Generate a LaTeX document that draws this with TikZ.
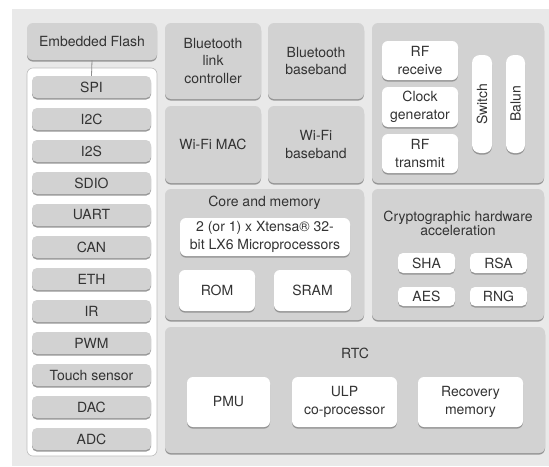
\documentclass[tikz,border=0pt]{standalone}
\usepackage{fontspec}
\setmainfont{TeX Gyre Heros}
\usetikzlibrary{shadows}
\definecolor{bgcol}{HTML}{E9E9E9}
\definecolor{blockcol}{HTML}{D2D2D2}
\definecolor{txtcol}{HTML}{333333}
\definecolor{shadecol}{HTML}{8E8E8E}
\definecolor{edgecol}{HTML}{BDBDBD}
\tikzset{
  base/.style={rounded corners=6pt, inner sep=0pt, align=center, text=txtcol,
    font=\fontsize{14}{17.5}\selectfont},
  dshadow/.style={drop shadow={shadow xshift=0pt, shadow yshift=-1.6pt, fill=shadecol, opacity=0.9}},
  block/.style={base, fill=blockcol, dshadow},
  unit/.style={base, fill=white, dshadow},
  periph/.style={base, rounded corners=5pt, fill=blockcol, dshadow,
    minimum width=119pt, minimum height=22pt},
  pill/.style={base, rounded corners=5pt, fill=white, dshadow,
    minimum width=57pt, minimum height=20pt},
  heading/.style={text=txtcol, align=center, inner sep=0pt,
    font=\fontsize{14}{14}\selectfont},
  vlabel/.style={text=txtcol, rotate=90, inner sep=0pt, font=\fontsize{14}{14}\selectfont},
}
\begin{document}
\begin{tikzpicture}[x=1pt, y=-1pt]
\useasboundingbox (0,0) rectangle (549,466);
\fill[bgcol] (12,9) rectangle (549,466);

% flash and peripheral column
\node[block, minimum width=130pt, minimum height=37pt] (flash) at (92,41.5) {Embedded Flash};
\node[base, fill=white, draw=edgecol, line width=0.6pt, minimum width=130pt, minimum height=388pt] (perif) at (92,262) {};
\foreach \nm/\lb [count=\i from 0] in {spi/SPI, i2c/I2C, i2s/I2S, sdio/SDIO, uart/UART, can/CAN, eth/ETH, ir/IR, pwm/PWM, touch/Touch sensor, dac/DAC, adc/ADC}
  \node[periph] (\nm) at (91.5,{87+32*\i}) {\lb};
\draw[shadecol, line width=0.8pt] (flash.south) -- (spi.north);

% radio blocks
\node[block, minimum width=96pt, minimum height=76pt] (btlc) at (213,61) {Bluetooth\\link\\controller};
\node[block, minimum width=96pt, minimum height=77pt] (wmac) at (213,144.5) {Wi-Fi MAC};
\node[block, minimum width=96pt, minimum height=76pt] (btbb) at (316,61) {Bluetooth\\baseband};
\node[block, minimum width=96pt, minimum height=77pt] (wbb) at (316,144.5) {Wi-Fi\\baseband};

% RF front end
\node[block, minimum width=172pt, minimum height=160pt] (rf) at (458,103) {};
\node[unit, minimum width=76pt, minimum height=39pt] (rfrx) at (420,60.5) {RF\\receive};
\node[unit, minimum width=76pt, minimum height=40pt] (clk) at (420,107) {Clock\\generator};
\node[unit, minimum width=76pt, minimum height=39pt] (rftx) at (420,153.5) {RF\\transmit};
\node[unit, rounded corners=8pt, minimum width=20pt, minimum height=98pt] (sw) at (482,104) {};
\node[vlabel] (swl) at (sw.center) {Switch};
\node[unit, rounded corners=8pt, minimum width=19pt, minimum height=98pt] (bal) at (515.5,104) {};
\node[vlabel] (ball) at (bal.center) {Balun};

% core and memory
\node[block, minimum width=199pt, minimum height=131pt] (core) at (264.5,254.5) {};
\node[heading] (coret) at (264.5,203) {Core and memory};
\node[unit, minimum width=170pt, minimum height=38pt] (cpu) at (265,237) {2 (or 1) x Xtensa® 32-\\bit LX6 Microprocessors};
\node[unit, minimum width=76pt, minimum height=41pt] (rom) at (217,290.5) {ROM};
\node[unit, minimum width=77pt, minimum height=41pt] (sram) at (312.5,290.5) {SRAM};

% crypto
\node[block, minimum width=172pt, minimum height=131pt] (crypto) at (458,254.5) {};
\node[heading, font=\fontsize{14}{13.5}\selectfont] (cryptot) at (458,223.5) {Cryptographic hardware\\acceleration};
\node[pill] (sha) at (426.5,263) {SHA};
\node[pill] (rsa) at (498.5,263) {RSA};
\node[pill, minimum height=19pt] (aes) at (426.5,296.5) {AES};
\node[pill, minimum height=19pt] (rng) at (498.5,296.5) {RNG};

% RTC
\node[block, minimum width=380pt, minimum height=126pt] (rtc) at (355,390) {};
\node[heading] (rtct) at (355,353) {RTC};
\node[unit, minimum width=83pt, minimum height=50pt] (pmu) at (228.5,402) {PMU};
\node[unit, minimum width=105pt, minimum height=50pt] (ulp) at (344.5,402) {ULP\\co-processor};
\node[unit, minimum width=105pt, minimum height=50pt] (rec) at (470.5,402) {Recovery\\memory};
\end{tikzpicture}
\end{document}
